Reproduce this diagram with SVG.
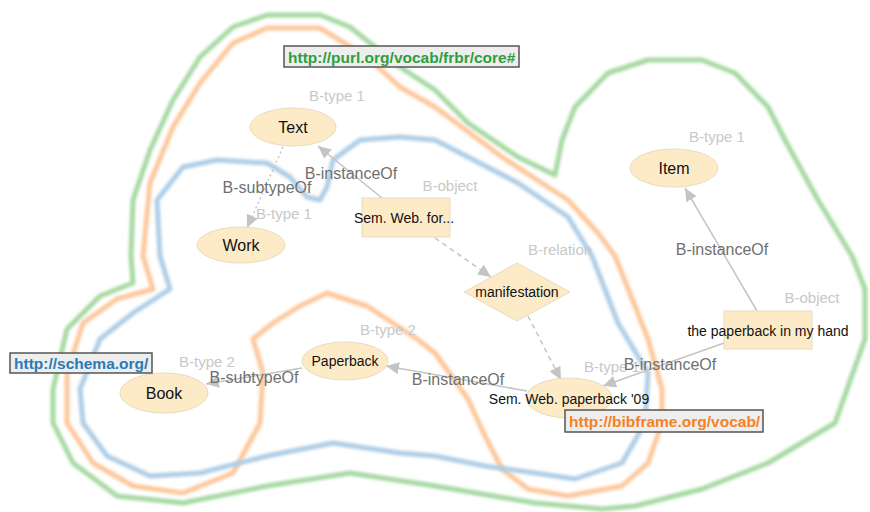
<svg xmlns="http://www.w3.org/2000/svg" width="870" height="512" viewBox="0 0 870 512">
<style>
text{font-family:"Liberation Sans",Arial,sans-serif;dominant-baseline:central;text-anchor:middle}
.blob{fill:none;stroke-width:5;stroke-linejoin:round;filter:url(#soft)}
.g{stroke:#a6d9a2}.o{stroke:#fdc79b}.b{stroke:#aecde6}
.node{fill:#fdebc8;stroke:#e8dcc0;stroke-width:1}
.edge{fill:none;stroke:#c4c4c4;stroke-width:1.5;marker-end:url(#arr)}
.dash{stroke-dasharray:5,4}.dot{stroke-dasharray:2,3}
.nt{fill:#111;font-size:14px}.nb{fill:#111;font-size:16px}
.tl{fill:#c8c8c8;font-size:15px}
.el{fill:#707070;font-size:16px}
.urlbox{fill:#eeeeee;stroke:#555;stroke-width:1.5}
.url{font-weight:bold;font-size:15.5px;text-anchor:start}
</style>
<defs>
<filter id="soft" x="-5%" y="-5%" width="110%" height="110%"><feGaussianBlur stdDeviation="1.4"/></filter>
<marker id="arr" markerUnits="userSpaceOnUse" markerWidth="14" markerHeight="12" refX="13" refY="6" orient="auto"><path d="M0,0 L13,6 L0,12 z" fill="#c4c4c4"/></marker>
</defs>
<rect width="870" height="512" fill="#ffffff"/>
<g id="blobs">
<path class="blob g" d="M267,15 L320,15 L350,27 L400,67 L435,90 L468,123 L518,157 L555,175 L562,140 L575,107 L608,73 L648,60 L702,60 L735,73 L768,107 L785,140 L818,200 L852,256 L865,289 L865,339 L835,423 L768,463 L702,489 L635,506 L602,509 L535,503 L435,486 L350,473 L267,486 L183,503 L117,496 L73,463 L53,423 L53,389 L67,329 L100,296 L133,283 L131,256 L133,200 L150,150 L173,100 L200,57 L233,27 Z"/>
<path class="blob o" d="M267,28 L320,28 L367,57 L400,87 L435,107 L502,157 L568,200 L598,233 L615,256 L635,306 L648,339 L662,389 L662,423 L648,463 L622,486 L568,496 L528,489 L502,469 L485,436 L468,399 L435,353 L417,339 L367,306 L327,293 L300,306 L273,323 L253,339 L263,373 L260,423 L233,473 L183,493 L133,486 L93,463 L67,423 L67,373 L83,323 L117,299 L153,289 L143,256 L150,183 L173,127 L200,83 L233,43 Z"/>
<path class="blob b" d="M157,200 L183,167 L217,160 L267,163 L290,177 L307,197 L320,200 L327,187 L333,160 L360,140 L400,137 L435,140 L468,157 L518,183 L568,217 L592,256 L618,323 L648,373 L645,423 L622,463 L575,479 L535,473 L485,466 L435,456 L400,453 L333,443 L267,456 L200,473 L150,476 L107,456 L83,423 L80,389 L100,339 L133,313 L170,289 L160,256 Z"/>
</g>
<g id="type-labels">
<text class="tl" x="337" y="95">B-type 1</text>
<text class="tl" x="284" y="213">B-type 1</text>
<text class="tl" x="450" y="185">B-object</text>
<text class="tl" x="560" y="249">B-relation</text>
<text class="tl" x="717" y="136">B-type 1</text>
<text class="tl" x="812" y="297">B-object</text>
<text class="tl" x="388" y="329">B-type 2</text>
<text class="tl" x="207" y="361">B-type 2</text>
<text class="tl" x="612" y="366">B-type 1</text>
</g>
<g id="connectors">
<path class="edge dot" d="M283,147 L247,228"/>
<path class="edge" d="M382,198 L318,146"/>
<path class="edge dash" d="M435,238 L491,277"/>
<path class="edge dash" d="M528,316 L561,380"/>
<path class="edge" d="M757,311 L685,188"/>
<path class="edge" d="M724,343 L603,386"/>
<path class="edge" d="M527,391 L386,366"/>
<path class="edge" d="M302,368 L206,384"/>
<text class="el" x="267" y="187">B-subtypeOf</text>
<text class="el" x="351" y="173">B-instanceOf</text>
<text class="el" x="722" y="249">B-instanceOf</text>
<text class="el" x="670" y="364">B-instanceOf</text>
<text class="el" x="458" y="379">B-instanceOf</text>
<text class="el" x="254" y="377">B-subtypeOf</text>
</g>
<g id="node-text">
<ellipse class="node" cx="293" cy="127" rx="43" ry="19"/>
<text class="nb" x="293" y="127">Text</text>
</g>
<g id="node-work">
<ellipse class="node" cx="241" cy="245" rx="44" ry="18"/>
<text class="nb" x="241" y="245">Work</text>
</g>
<g id="node-semwebfor">
<rect class="node" x="362" y="198" width="88" height="39"/>
<text class="nt" x="404" y="218">Sem. Web. for...</text>
</g>
<g id="node-manifestation">
<path class="node" d="M517,263 L570,292 L517,321 L464,292 Z"/>
<text class="nt" x="517" y="292">manifestation</text>
</g>
<g id="node-item">
<ellipse class="node" cx="674" cy="168" rx="44" ry="19"/>
<text class="nb" x="674" y="168">Item</text>
</g>
<g id="node-hand">
<rect class="node" x="724" y="311" width="88" height="38"/>
<text class="nt" x="768" y="331">the paperback in my hand</text>
</g>
<g id="node-semwebpb">
<ellipse class="node" cx="569" cy="398" rx="43" ry="20"/>
<text class="nt" x="569" y="399">Sem. Web. paperback '09</text>
</g>
<g id="node-paperback">
<ellipse class="node" cx="345" cy="361" rx="43" ry="19"/>
<text class="nt" x="345" y="361">Paperback</text>
</g>
<g id="node-book">
<ellipse class="node" cx="164" cy="393" rx="44" ry="20"/>
<text class="nb" x="164" y="393">Book</text>
</g>
<g id="label-frbr">
<rect class="urlbox" x="284" y="46" width="235" height="21"/>
<text class="url" x="288" y="57" fill="#2e9e3e">http://purl.org/vocab/frbr/core#</text>
</g>
<g id="label-schema">
<rect class="urlbox" x="10" y="353" width="142" height="20"/>
<text class="url" x="14" y="363.5" fill="#2a7ab8">http://schema.org/</text>
</g>
<g id="label-bibframe">
<rect class="urlbox" x="565" y="410" width="198" height="22"/>
<text class="url" x="569" y="421" fill="#f5821f">http://bibframe.org/vocab/</text>
</g>
</svg>
